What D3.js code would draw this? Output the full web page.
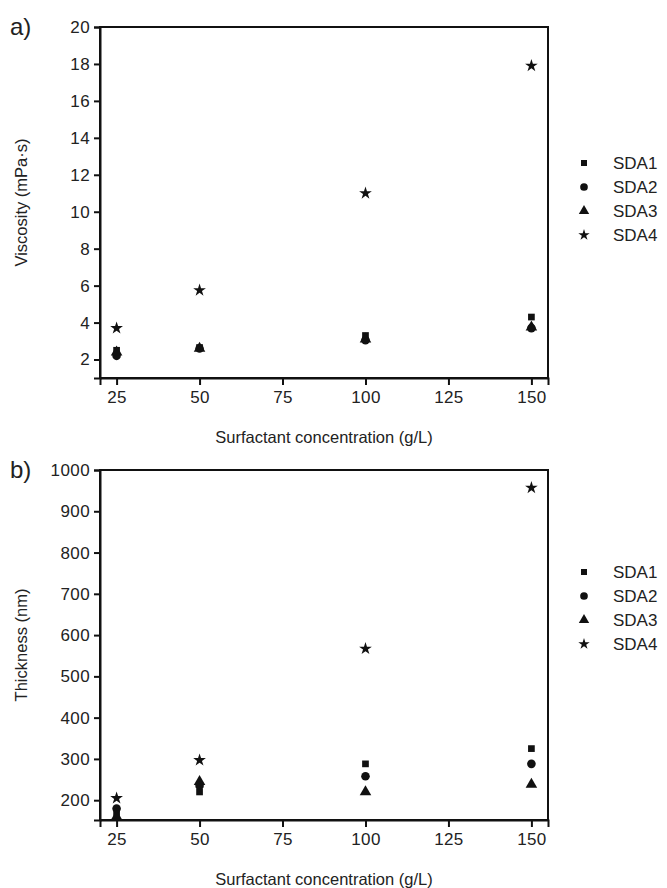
<!DOCTYPE html>
<html>
<head>
<meta charset="utf-8">
<script src="https://cdn.jsdelivr.net/npm/d3@7"></script>
<style>
  body { margin: 0; background: #fff; }
  svg { font-family: "Liberation Sans", Arial, sans-serif; }
</style>
</head>
<body>
<script>
// data
var conc = [25, 50, 100, 150];
var series = ["SDA1", "SDA2", "SDA3", "SDA4"];
var viscSDA1 = [2.5, 2.65, 3.3, 4.3];
var viscSDA2 = [2.2, 2.6, 3.05, 3.7];
var viscSDA3 = [2.4, 2.6, 3.1, 3.75];
var viscSDA4 = [3.7, 5.75, 11.0, 17.9];
var thickSDA1 = [170, 220, 288, 325];
var thickSDA2 = [180, 235, 258, 288];
var thickSDA3 = [160, 245, 220, 238];
var thickSDA4 = [205, 297, 567, 957];
var xTicks = [25, 50, 75, 100, 125, 150];
var viscTicks = [2, 4, 6, 8, 10, 12, 14, 16, 18, 20];
var thickTicks = [200, 300, 400, 500, 600, 700, 800, 900, 1000];

var width = 667, height = 888;
var svg = d3.select("body").append("svg").attr("width", width).attr("height", height);

var symbols = [d3.symbolSquare, d3.symbolCircle, d3.symbolTriangle, d3.symbolStar];
var sizes = [45, 58, 58, 50];

function panel(opt)
{
    var g = svg.append("g");
    var x = d3.scaleLinear().domain([20, 155]).range([100, 548]);
    var y = d3.scaleLinear().domain(opt.ydom).range([opt.bottom, opt.top]);

    // frame
    g.append("rect")
        .attr("x", 100).attr("y", opt.top)
        .attr("width", 448).attr("height", opt.bottom - opt.top)
        .attr("fill", "none").attr("stroke", "#111").attr("stroke-width", 2);

    var xa = g.append("g").attr("transform", "translate(0," + opt.bottom + ")")
        .call(d3.axisBottom(x).tickValues(xTicks).tickSize(7).tickPadding(6));
    var ya = g.append("g").attr("transform", "translate(100,0)")
        .call(d3.axisLeft(y).tickValues(opt.ticks).tickFormat(d3.format("d")).tickSize(6).tickPadding(4));
    [xa, ya].forEach(function (a) {
        a.select(".domain").attr("stroke", "#111").attr("stroke-width", 2);
        a.selectAll(".tick line").attr("stroke", "#111").attr("stroke-width", 2);
        a.selectAll(".tick text").attr("fill", "#222")
            .style("font-size", "17px").style("letter-spacing", "0.4px");
    });

    // points
    opt.data.forEach(function (vals, i) {
        g.selectAll(null).data(vals).enter().append("path")
            .attr("d", d3.symbol().type(symbols[i]).size(sizes[i]))
            .attr("transform", function (d, j) { return "translate(" + x(conc[j]) + "," + y(d) + ")"; })
            .attr("fill", "#111");
    });

    // legend
    series.forEach(function (s, i) {
        var ly = opt.legendY + i * 24;
        g.append("path")
            .attr("d", d3.symbol().type(symbols[i]).size(sizes[i] * 0.8))
            .attr("transform", "translate(584," + ly + ")")
            .attr("fill", "#111");
        g.append("text").attr("x", 613).attr("y", ly + 6)
            .style("font-size", "17px").attr("fill", "#222").text(s);
    });

    g.append("text").attr("x", 324).attr("y", opt.bottom + 65)
        .attr("text-anchor", "middle").style("font-size", "16.5px").attr("fill", "#222")
        .text("Surfactant concentration (g/L)");
    g.append("text")
        .attr("transform", "translate(27," + ((opt.top + opt.bottom) / 2) + ") rotate(-90)")
        .attr("text-anchor", "middle").style("font-size", "16.5px").attr("fill", "#222")
        .text(opt.ylabel);
    g.append("text").attr("x", 10).attr("y", opt.top + 8)
        .style("font-size", "24px").attr("fill", "#222").text(opt.tag);
}

panel({ top: 27, bottom: 378, ydom: [1, 20], ticks: viscTicks,
        data: [viscSDA1, viscSDA2, viscSDA3, viscSDA4],
        ylabel: "Viscosity (mPa·s)", tag: "a)", legendY: 163 });
panel({ top: 470, bottom: 820, ydom: [152, 1000], ticks: thickTicks,
        data: [thickSDA1, thickSDA2, thickSDA3, thickSDA4],
        ylabel: "Thickness (nm)", tag: "b)", legendY: 572 });
</script>
</body>
</html>
